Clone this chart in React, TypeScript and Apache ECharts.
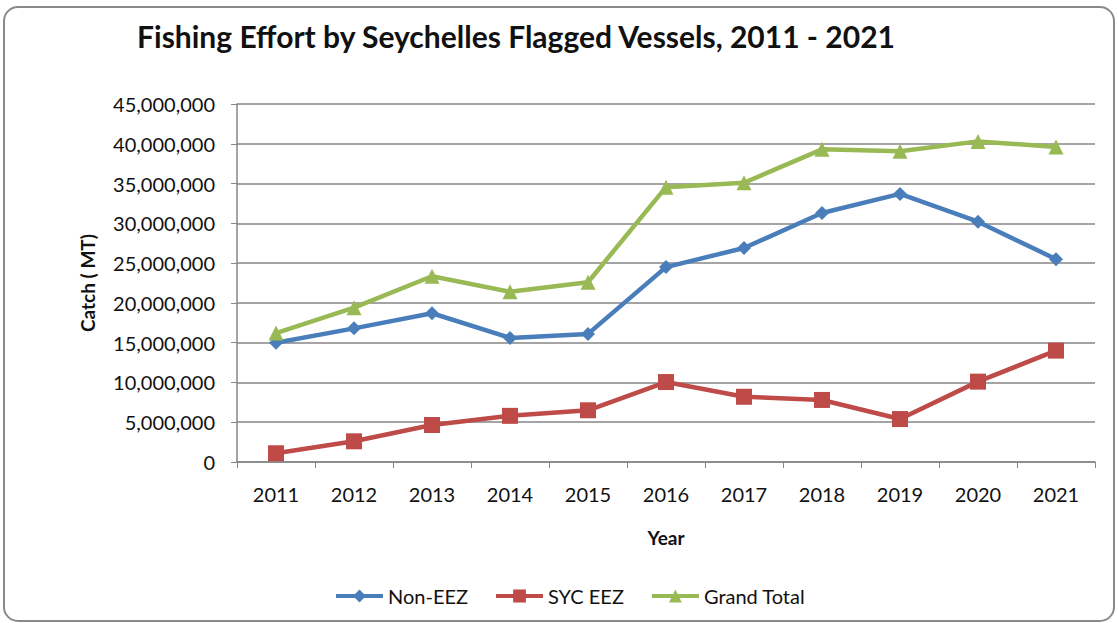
import React, { useEffect, useRef } from "react";
import * as echarts from "echarts";

const years = ["2011", "2012", "2013", "2014", "2015", "2016", "2017", "2018", "2019", "2020", "2021"];
const nonEEZ = [15000000, 16800000, 18700000, 15600000, 16100000, 24500000, 26900000, 31300000, 33700000, 30200000, 25500000];
const sycEEZ = [1100000, 2600000, 4650000, 5800000, 6500000, 10050000, 8200000, 7800000, 5400000, 10100000, 14000000];
const grandTotal = [16200000, 19400000, 23350000, 21400000, 22600000, 34550000, 35100000, 39300000, 39050000, 40300000, 39600000];
const seriesNames = ["Non-EEZ", "SYC EEZ", "Grand Total"];
const titleText = "Fishing Effort by Seychelles Flagged Vessels, 2011 - 2021";

const FONT = "Lato, 'Liberation Sans', sans-serif";

export default function App() {
  const ref = useRef<HTMLDivElement>(null);
  useEffect(() => {
    document.body.style.margin = "0";
    const chart = echarts.init(ref.current!, null, { renderer: "svg" });
    const fmt = (v: number) => v.toLocaleString("en-US");
    chart.setOption({
      animation: false,
      backgroundColor: "#ffffff",
      textStyle: { fontFamily: FONT },
      graphic: [
        {
          type: "rect",
          shape: { x: 4, y: 7, width: 1110, height: 614, r: 14 },
          style: { fill: "#ffffff", stroke: "#8a8a8a", lineWidth: 2 },
          z: -10,
          silent: true,
        },
      ],
      title: {
        text: titleText,
        left: 511,
        textAlign: "center",
        top: 16,
        textStyle: { fontFamily: FONT, fontSize: 30, fontWeight: "bold", color: "#111" },
      },
      legend: {
        data: seriesNames,
        bottom: 12,
        left: 329,
        itemWidth: 47,
        itemHeight: 16,
        itemGap: 26,
        lineStyle: { width: 4 },
        textStyle: { fontFamily: FONT, fontSize: 20, color: "#111" },
      },
      grid: { left: 237, right: 23, top: 104, bottom: 161 },
      xAxis: {
        type: "category",
        data: years,
        boundaryGap: true,
        name: "Year",
        nameLocation: "middle",
        nameGap: 66,
        nameTextStyle: { fontFamily: FONT, fontSize: 19, fontWeight: "bold", color: "#111" },
        axisLine: { lineStyle: { color: "#868686", width: 1.5 } },
        axisTick: { show: true, length: 6, lineStyle: { color: "#868686" } },
        axisLabel: { fontFamily: FONT, fontSize: 20, color: "#111", margin: 22 },
      },
      yAxis: {
        type: "value",
        min: 0,
        max: 45000000,
        interval: 5000000,
        name: "Catch ( MT)",
        nameLocation: "middle",
        nameGap: 140,
        nameRotate: 90,
        nameTextStyle: { fontFamily: FONT, fontSize: 19, fontWeight: "bold", color: "#111" },
        axisLine: { show: true, lineStyle: { color: "#868686", width: 1.5 } },
        axisTick: { show: true, length: 6, inside: false, lineStyle: { color: "#868686" } },
        axisLabel: { fontFamily: FONT, fontSize: 20, color: "#111", margin: 22, formatter: fmt },
        splitLine: { show: true, lineStyle: { color: "#868686", width: 1.5 } },
      },
      series: [
        {
          name: seriesNames[0],
          type: "line",
          data: nonEEZ,
          symbol: "diamond",
          symbolSize: 14,
          color: "#4a7ebb",
          lineStyle: { width: 4.5, color: "#4a7ebb" },
          itemStyle: { color: "#4a7ebb" },
        },
        {
          name: seriesNames[1],
          type: "line",
          data: sycEEZ,
          symbol: "rect",
          symbolSize: 16,
          color: "#be4b48",
          lineStyle: { width: 4.5, color: "#be4b48" },
          itemStyle: { color: "#be4b48" },
        },
        {
          name: seriesNames[2],
          type: "line",
          data: grandTotal,
          symbol: "triangle",
          symbolSize: 15,
          color: "#98b954",
          lineStyle: { width: 4.5, color: "#98b954" },
          itemStyle: { color: "#98b954" },
        },
      ],
    });
    return () => chart.dispose();
  }, []);
  return <div ref={ref} style={{ width: 1118, height: 623 }} />;
}
